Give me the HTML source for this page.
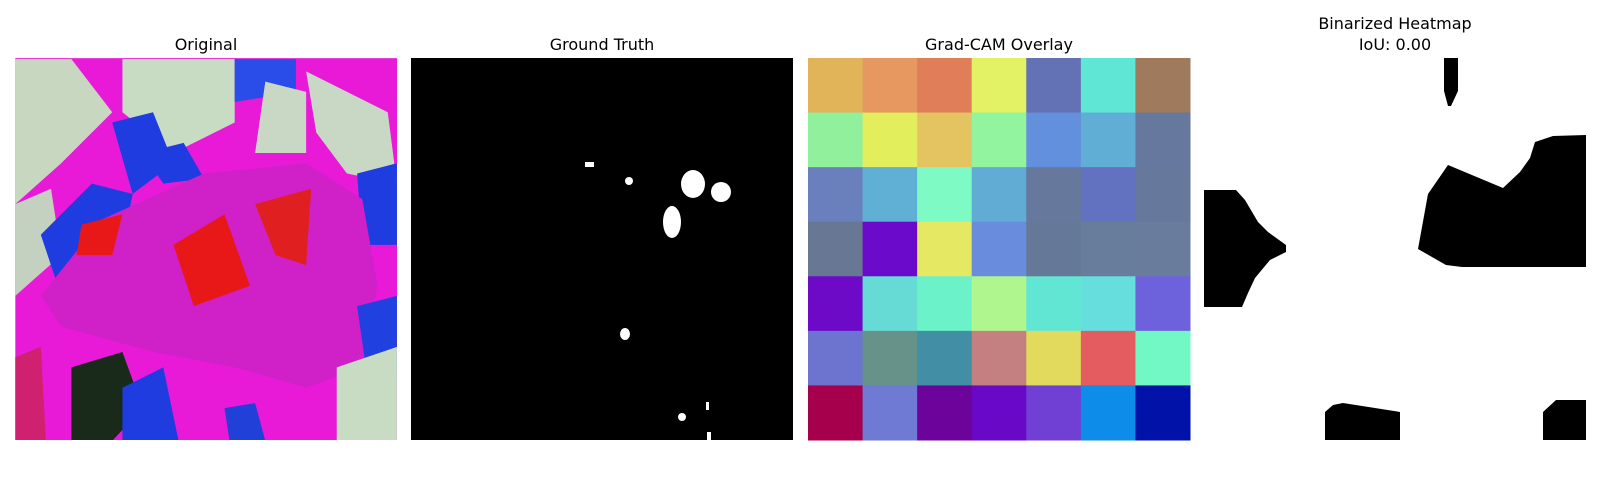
<!DOCTYPE html>
<html><head><meta charset="utf-8"><style>
body{margin:0;background:#fff;width:1600px;height:500px;overflow:hidden;font-family:"DejaVu Sans","Liberation Sans",sans-serif}
svg{display:block}
</style></head><body>
<svg width="1600" height="500">
<g font-size="16" fill="#000" text-anchor="middle">
<text x="206" y="50">Original</text>
<text x="602" y="50">Ground Truth</text>
<text x="999" y="50">Grad-CAM Overlay</text>
<text x="1395" y="29">Binarized Heatmap</text>
<text x="1395" y="50">IoU: 0.00</text>
</g>
<!-- Original -->
<g>
<clipPath id="c1"><rect x="15" y="58" width="382" height="382"/></clipPath>
<g clip-path="url(#c1)"><g transform="scale(1.0204)">
<rect x="15" y="57" width="375" height="375" fill="#e81ad8"/>
<polygon points="15,58 70,58 110,110 60,160 15,200" fill="#c8d8c0"/>
<polygon points="120,58 230,58 230,120 170,150 120,110" fill="#c8dcc4"/>
<polygon points="230,58 290,58 290,90 230,100" fill="#2a4ce8"/>
<polygon points="260,80 300,90 300,150 250,150" fill="#c8d8c4"/>
<polygon points="300,70 380,110 389,180 340,170 310,130" fill="#c8d8c4"/>
<polygon points="15,200 50,185 60,250 15,290" fill="#c4d0c0"/>
<polygon points="40,230 90,180 130,190 120,240 60,290" fill="#1e3ce0"/>
<polygon points="110,120 150,110 170,160 130,190" fill="#1e3ce0"/>
<polygon points="140,150 180,140 200,175 160,180" fill="#1e3ce0"/>
<polygon points="350,170 389,160 389,240 355,240" fill="#1e3ce0"/>
<polygon points="40,290 100,215 200,170 300,160 355,195 370,280 355,360 300,380 230,360 150,345 60,320" fill="#d020c8"/>
<polygon points="170,240 220,210 245,280 190,300" fill="#e81818"/>
<polygon points="80,220 120,210 110,250 75,250" fill="#e81818"/>
<polygon points="250,200 305,185 300,260 270,250" fill="#e02020"/>
<polygon points="350,300 389,290 389,370 360,370" fill="#2040e0"/>
<polygon points="330,360 389,340 389,432 330,432" fill="#c8dcc4"/>
<polygon points="70,360 120,345 140,400 110,432 70,432" fill="#1a2a1a"/>
<polygon points="120,380 160,360 175,432 120,432" fill="#1e3ce0"/>
<polygon points="220,400 250,395 260,432 225,432" fill="#2040d8"/>
<polygon points="15,350 40,340 45,432 15,432" fill="#d02070"/>
</g></g></g>
<!-- Ground truth -->
<g>
<rect x="411" y="58" width="382" height="382" fill="#000"/>
<g fill="#fff">
<rect x="585" y="162" width="9" height="5"/>
<ellipse cx="629" cy="181" rx="4" ry="4"/>
<ellipse cx="693" cy="184" rx="12" ry="14"/>
<ellipse cx="721" cy="192" rx="10" ry="10"/>
<ellipse cx="672" cy="222" rx="9" ry="16"/>
<ellipse cx="625" cy="334" rx="5" ry="6"/>
<ellipse cx="682" cy="417" rx="4" ry="4"/>
<rect x="706" y="402" width="3" height="8"/>
<rect x="707" y="432" width="4" height="8"/>
</g></g>
<!-- Grad-CAM -->
<g id="cam"></g>
<!-- Binarized -->
<g fill="#000">
<polygon points="1444,58 1458,58 1458,91 1451,106 1448,106 1444,91"/>
<polygon points="1204,190 1236,190 1245,200 1258,222 1268,232 1286,245 1286,252 1270,260 1255,278 1248,293 1242,307 1204,307"/>
<polygon points="1586,135 1553,136 1535,142 1530,158 1520,172 1503,188 1448,165 1428,194 1418,249 1446,265 1462,267 1586,267"/>
<polygon points="1325,412 1333,405 1343,403 1400,412 1400,440 1325,440"/>
<polygon points="1543,412 1556,400 1586,400 1586,440 1543,440"/>
</g>
</svg>
<script>
const rows = 7, cols = 7;
const row0 = ["#e2b45a","#e69860","#e07e5a","#e2f264","#6272b4","#60e6d4","#a07a5c"];
const row1 = ["#90f09c","#e2ee5c","#e4c460","#92f49e","#6290dc","#60aed6","#66789e"];
const row2 = ["#6a80bc","#60b0d6","#7efac4","#60acd4","#66789c","#6272c0","#66789c"];
const row3 = ["#687894","#6c0acc","#e4e862","#6a8cdc","#667898","#687c9c","#6a7c9c"];
const row4 = ["#6c0ac8","#66dad4","#6cf2c8","#b0f68e","#62e6d4","#66dede","#6e62dc"];
const row5 = ["#6c74d0","#66928a","#428ea4","#c48080","#e2da5c","#e45c60","#72f8c4"];
const row6 = ["#a6004c","#6e7ad4","#6c049c","#6a08c8","#7040d4","#0e8cea","#0012a8"];
const grid = [row0,row1,row2,row3,row4,row5,row6];
const g = document.getElementById('cam');
const x0 = 808, y0 = 58, size = 382;
const cw = size/cols, ch = size/rows;
grid.forEach((row, r) => row.forEach((c, k) => {
  const el = document.createElementNS('http://www.w3.org/2000/svg','rect');
  el.setAttribute('x', x0 + k*cw);
  el.setAttribute('y', y0 + r*ch);
  el.setAttribute('width', cw + 0.5);
  el.setAttribute('height', ch + 0.5);
  el.setAttribute('fill', c);
  
  
  g.appendChild(el);
}));
</script>
</body></html>
